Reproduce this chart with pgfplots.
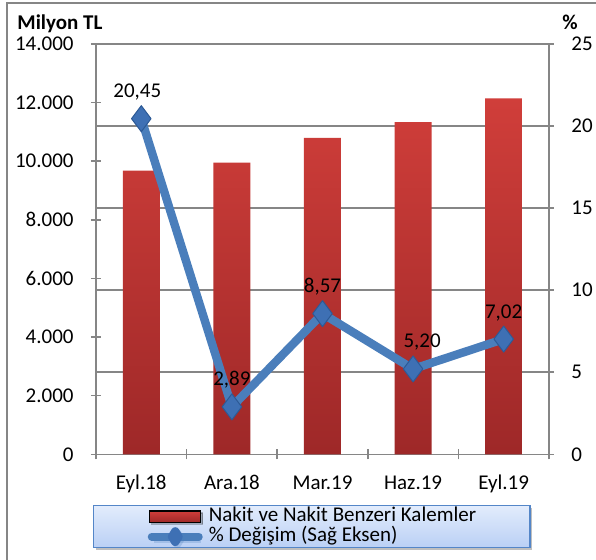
\documentclass[border=0pt]{standalone}
\usepackage{fontspec}
\setmainfont{Carlito}
\usepackage{pgfplots}
\usepackage{pgfplotstable}
\pgfplotsset{compat=1.18}
\usetikzlibrary{shadows}
\definecolor{axgray}{RGB}{134,134,134}
\definecolor{barTop}{RGB}{208,62,58}
\definecolor{barBot}{RGB}{158,40,40}
\definecolor{lineBlue}{RGB}{74,126,187}
\definecolor{markBlue}{RGB}{62,112,180}
\definecolor{markEdge}{RGB}{45,90,150}
\definecolor{legTop}{RGB}{226,236,252}
\definecolor{legBot}{RGB}{186,208,245}
\definecolor{legEdge}{RGB}{84,134,200}

% Nakit ve nakit benzeri kalemler (milyon TL)
\pgfplotstableread{
x y
0 9677
1 9950
2 10793
3 11338
4 12147
}\cashtab
% yuzde degisim (sag eksen); dx = etiket kaymasi (pt)
\pgfplotstableread{
x y lab dx
0 20.45 20,45 -2
1 2.89 2,89 0
2 8.57 8,57 0
3 5.20 5,20 4.5
4 7.02 7,02 0
}\pcttab

\pgfplotsset{
  twin/.style={
    scale only axis, width=226.5pt, height=205.15pt,
    xmin=-0.5, xmax=4.5, clip=false,
    tick align=center, major tick length=5pt,
    tick style={axgray, line width=0.75pt},
    /pgf/number format/assume math mode=true,
  }}

\begin{document}
\fontsize{10.5pt}{12.6pt}\selectfont
\begin{tikzpicture}
\useasboundingbox (-48pt,-52.85pt) rectangle (250pt,227.15pt);
\draw[axgray, line width=0.75pt] (-44.5pt,-60pt) |- (260pt,225.65pt);

\begin{axis}[twin,
  ymin=0, ymax=14000,
  xtick={-0.5,0.5,...,4.5}, xticklabels={,,,,,},
  extra x ticks={0,1,2,3,4},
  extra x tick labels={Eyl.18,Ara.18,Mar.19,Haz.19,Eyl.19},
  extra x tick style={major tick length=0pt},
  ytick={0,2000,...,14000},
  extra y ticks={2800,5600,8400,11200},
  extra y tick labels={},
  extra y tick style={grid=major, major tick length=0pt},
  major grid style={axgray, line width=0.75pt},
  xtick pos=left, ytick pos=left,
  axis line style={axgray, line width=0.75pt},
  scaled y ticks=false,
  /pgf/number format/1000 sep={.},
  yticklabel style={anchor=east, inner sep=0pt, xshift=-8.5pt},
  xticklabel style={anchor=base, inner sep=0pt, yshift=-17.6pt},
]
\addplot[ybar, bar width=18.5pt, draw=none, top color=barTop, bottom color=barBot]
  table[x=x, y=y] {\cashtab};
\node[anchor=base west, font=\bfseries, inner sep=0pt, xshift=-39.5pt, yshift=7.05pt]
  at (rel axis cs:0,1) {Milyon TL};
\end{axis}

\begin{axis}[twin,
  ymin=0, ymax=25,
  axis line style={draw=none}, xtick=\empty,
  ytick={0,5,...,25}, ytick pos=right,
  yticklabel style={anchor=west, inner sep=0pt, xshift=8.5pt},
  legend cell align=left,
  legend style={at={(axis description cs:0,0)}, anchor=north west,
    xshift=-1.5pt, yshift=-25.3pt,
    draw=legEdge, line width=0.75pt, top color=legTop, bottom color=legBot,
    inner xsep=27pt, inner ysep=0pt, row sep=-1pt, column sep=3pt,
    nodes={inner sep=0pt, text height=8pt, text depth=3pt},
    drop shadow={shadow xshift=1pt, shadow yshift=-1pt, fill=black, opacity=0.25}},
]
\addlegendimage{legend image code/.code={
  \shade[top color=barTop, bottom color=barBot] (0pt,-2.9pt) rectangle (25.5pt,2.9pt);}}
\addlegendentry{Nakit ve Nakit Benzeri Kalemler}
\addplot[lineBlue, line width=4.2pt, line join=round,
  mark=diamond*, mark size=6.5pt,
  mark options={fill=markBlue, draw=markEdge, line width=0.5pt},
  nodes near coords, point meta=explicit symbolic,
  visualization depends on={\thisrow{dx} \as \dx},
  every node near coord/.style={anchor=base, inner sep=0pt, yshift=10.5pt,
    xshift=\dx pt, text=black},
  legend image code/.code={
    \draw[lineBlue, line width=4pt, line cap=round] (1pt,0pt) -- (24.5pt,0pt);
    \fill[markBlue] (12.75pt,2.6pt) -- (14.35pt,0pt) -- (12.75pt,-2.6pt) -- (11.15pt,0pt) -- cycle;}]
  table[x=x, y=y, meta=lab] {\pcttab};
\addlegendentry{\% Değişim (Sağ Eksen)}
\node[anchor=base west, font=\bfseries, inner sep=0pt, xshift=6.5pt, yshift=7.05pt]
  at (rel axis cs:1,1) {\%};
\end{axis}
\end{tikzpicture}
\end{document}
